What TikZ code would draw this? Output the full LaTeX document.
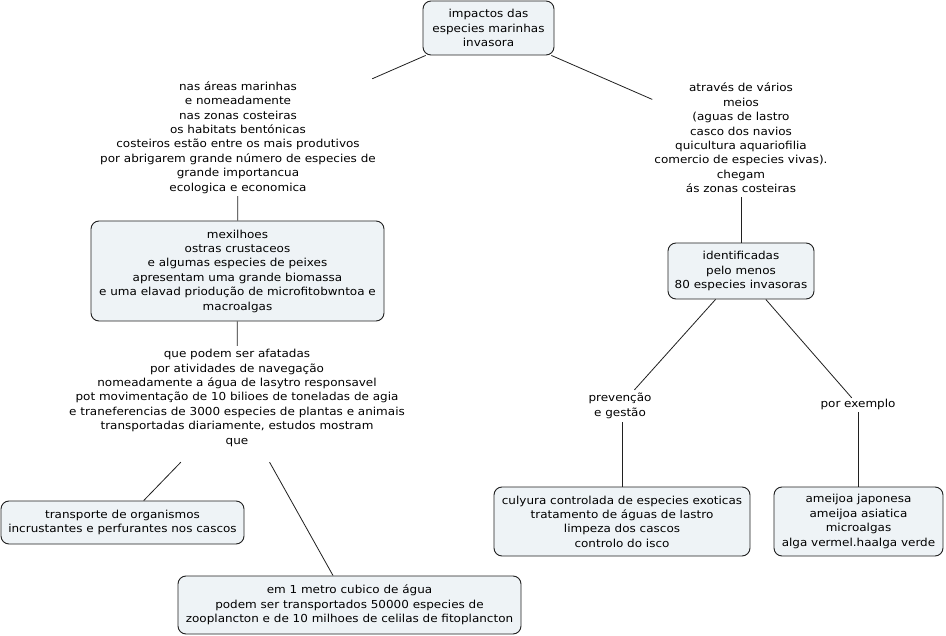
\documentclass[tikz,border=0pt]{standalone}
\usepackage{fontspec}
\setmainfont{DejaVu Sans}[FakeStretch=1.09]
\definecolor{boxfill}{HTML}{EEF3F6}
\definecolor{edge}{HTML}{202020}
\begin{document}
\begin{tikzpicture}[x=1pt,y=-1pt,
  txt/.style={font=\fontsize{11}{14.4}\selectfont, align=center},
  cbox/.style={txt, draw=edge, fill=boxfill, rounded corners=8pt, inner sep=0pt, line width=0.9pt},
  clabel/.style={txt, inner xsep=2pt, inner ysep=0pt},
  link/.style={draw=edge, line width=0.8pt}]
\useasboundingbox (0,0) rectangle (946,636);
\fill[white] (0,0) rectangle (946,636);

% boxes
\node[cbox, minimum width=131pt, minimum height=54pt] (top) at (488.5,28)
  {impactos das\\especies marinhas\\invasora};
\node[cbox, minimum width=293pt, minimum height=100pt] (mex) at (237.5,271)
  {mexilhoes\\ostras crustaceos\\e algumas especies de peixes\\apresentam uma grande biomassa\\e uma elavad priodução de microfitobwntoa e\\macroalgas};
\node[cbox, minimum width=243pt, minimum height=43pt] (trans) at (122.5,522.5)
  {transporte de organismos\\incrustantes e perfurantes nos cascos};
\node[cbox, minimum width=343pt, minimum height=58pt] (em) at (349.5,605)
  {em 1 metro cubico de água\\podem ser transportados 50000 especies de\\zooplancton e de 10 milhoes de celilas de fitoplancton};
\node[cbox, minimum width=146pt, minimum height=56pt] (ident) at (741,271)
  {identificadas\\pelo menos\\80 especies invasoras};
\node[cbox, minimum width=256pt, minimum height=69pt] (culy) at (622,521.5)
  {culyura controlada de especies exoticas\\tratamento de águas de lastro\\limpeza dos cascos\\controlo do isco};
\node[cbox, minimum width=169pt, minimum height=69pt] (amei) at (858.5,521.5)
  {ameijoa japonesa\\ameijoa asiatica\\microalgas\\alga vermel.haalga verde};

% labels
\node[clabel, minimum height=117pt] (nas) at (238,137.5)
  {nas áreas marinhas\\ e nomeadamente\\nas zonas costeiras\\os habitats bentónicas\\costeiros estão entre os mais produtivos\\por abrigarem grande número de especies de\\grande importancua\\ecologica e economica};
\node[clabel, minimum height=118pt] (atr) at (741,138)
  {através de vários\\meios\\(aguas de lastro\\casco dos navios\\quicultura aquariofilia\\comercio de especies vivas).\\chegam\\ás zonas costeiras};
\node[clabel, minimum height=116pt] (que) at (237,404)
  {que podem ser afatadas\\por atividades de navegação\\nomeadamente a água de lasytro responsavel\\pot movimentação de 10 bilioes de toneladas de agia\\e traneferencias de 3000 especies de plantas e animais\\transportadas diariamente, estudos mostram\\que\\\mbox{}};
\node[clabel, minimum height=32pt] (prev) at (620,406)
  {prevenção\\ e gestão};
\node[clabel, text height=10pt, text depth=4pt] (por) at (858,405)
  {por exemplo};

% connectors
\draw[link] (top) -- (nas);
\draw[link] (top) -- (atr);
\draw[link] (nas) -- (mex);
\draw[link] (mex) -- (que);
\draw[link] (que) -- (trans);
\draw[link] (que) -- (em);
\draw[link] (atr) -- (ident);
\draw[link] (ident) -- (prev);
\draw[link] (ident) -- (por);
\draw[link] (prev.south -| culy.north) -- (culy.north);
\draw[link] (por.south -| amei.north) -- (amei.north);
\end{tikzpicture}
\end{document}
